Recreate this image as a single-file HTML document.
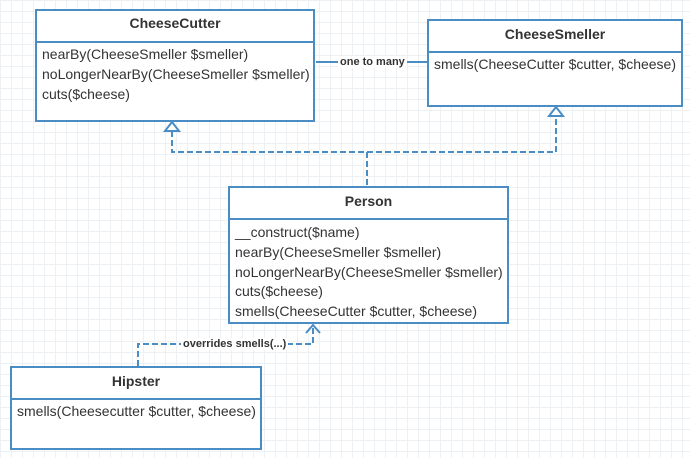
<!DOCTYPE html>
<html><head><meta charset="utf-8"><style>
html,body{margin:0;padding:0}
body{width:690px;height:458px;position:relative;overflow:hidden;background:#fff;
background-image:linear-gradient(#eef1f4 1px,transparent 1px),linear-gradient(90deg,#eef1f4 1px,transparent 1px);
background-size:11px 11px;font-family:"Liberation Sans",sans-serif;color:#333}
.box{position:absolute;border:2px solid #4a8cc4;background:#fff;box-sizing:border-box}
.hd{font-weight:bold;font-size:14px;text-align:center;border-bottom:2px solid #4a8cc4;box-sizing:border-box}
.bd{font-size:14px;padding:2px 0 0 5px;line-height:19.8px}
svg{position:absolute;left:0;top:0}
.lbl{position:absolute;font-size:11px;font-weight:bold;background:#fff;color:#333;line-height:12px}
</style></head><body>
<svg width="690" height="458">
<g fill="none" stroke="#4a8cc4" stroke-width="2">
<line x1="316" y1="62" x2="427" y2="62"/>
<g stroke-dasharray="6,3">
<polyline points="172,131 172,152 556,152 556,116"/>
<line x1="367" y1="152" x2="367" y2="186"/>
<polyline points="138,366 138,344 313,344 313,326"/>
</g>
<polygon points="172,122 165,131 179,131" fill="#fff"/>
<polygon points="556,107 549,116 563,116" fill="#fff"/>
<polyline points="306,333 313,325 320,333"/>
</g>
</svg>
<div class="lbl" style="left:338px;top:56px;padding:0 2px">one to many</div>
<div class="lbl" style="left:181px;top:338px;padding:0 2px">overrides smells(...)</div>
<div class="box" style="left:35px;top:9px;width:280px;height:113px">
<div class="hd" style="height:32px;line-height:24px">CheeseCutter</div>
<div class="bd">nearBy(CheeseSmeller $smeller)<br>noLongerNearBy(CheeseSmeller $smeller)<br>cuts($cheese)</div></div>
<div class="box" style="left:427px;top:19px;width:256px;height:88px">
<div class="hd" style="height:32px;line-height:26px">CheeseSmeller</div>
<div class="bd">smells(CheeseCutter $cutter, $cheese)</div></div>
<div class="box" style="left:228px;top:186px;width:281px;height:138px">
<div class="hd" style="height:32px;line-height:26px">Person</div>
<div class="bd" style="padding-top:3px">__construct($name)<br>nearBy(CheeseSmeller $smeller)<br>noLongerNearBy(CheeseSmeller $smeller)<br>cuts($cheese)<br>smells(CheeseCutter $cutter, $cheese)</div></div>
<div class="box" style="left:10px;top:366px;width:252px;height:84px">
<div class="hd" style="height:32px;line-height:26px">Hipster</div>
<div class="bd">smells(Cheesecutter $cutter, $cheese)</div></div>
</body></html>
